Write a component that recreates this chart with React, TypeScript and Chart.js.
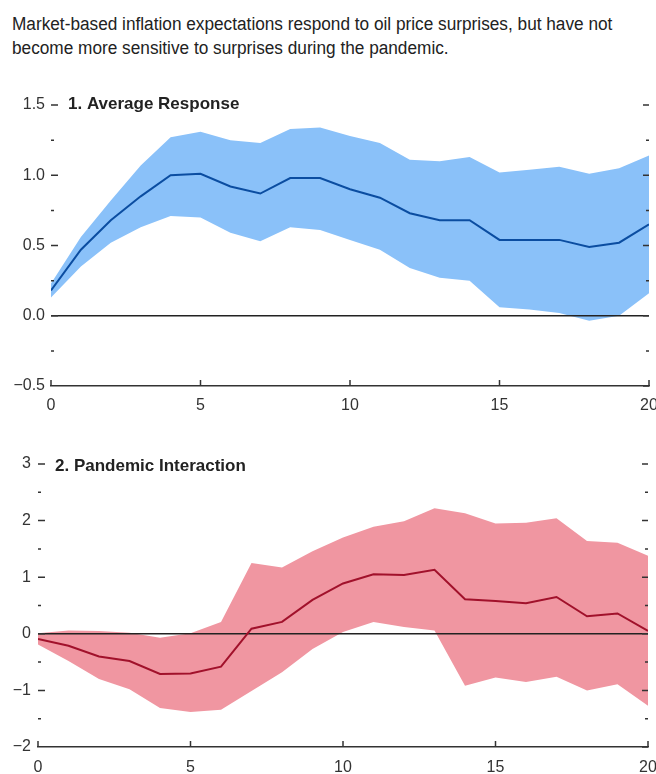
import React, { useEffect, useRef } from "react";
import { Chart, registerables } from "chart.js";

Chart.register(...registerables);

const horizons = [0, 1, 2, 3, 4, 5, 6, 7, 8, 9, 10, 11, 12, 13, 14, 15, 16, 17, 18, 19, 20];

const avgMean = [0.18, 0.47, 0.68, 0.85, 1.0, 1.01, 0.92, 0.87, 0.98, 0.98, 0.9, 0.84, 0.73, 0.68, 0.68, 0.54, 0.54, 0.54, 0.49, 0.52, 0.65];
const avgUpper = [0.23, 0.56, 0.82, 1.07, 1.27, 1.31, 1.25, 1.23, 1.33, 1.34, 1.28, 1.23, 1.11, 1.1, 1.13, 1.02, 1.04, 1.06, 1.01, 1.05, 1.14];
const avgLower = [0.13, 0.35, 0.52, 0.63, 0.71, 0.7, 0.59, 0.53, 0.63, 0.61, 0.54, 0.47, 0.34, 0.27, 0.25, 0.06, 0.045, 0.02, -0.035, 0.0, 0.16];

const panMean = [-0.09, -0.21, -0.4, -0.48, -0.71, -0.7, -0.58, 0.09, 0.21, 0.6, 0.89, 1.05, 1.04, 1.13, 0.61, 0.58, 0.54, 0.65, 0.31, 0.36, 0.05];
const panUpper = [0.01, 0.06, 0.05, 0.02, -0.07, 0.01, 0.21, 1.25, 1.17, 1.46, 1.7, 1.89, 1.99, 2.22, 2.13, 1.95, 1.96, 2.04, 1.64, 1.61, 1.38];
const panLower = [-0.19, -0.48, -0.8, -0.98, -1.31, -1.38, -1.34, -1.01, -0.68, -0.27, 0.03, 0.21, 0.12, 0.06, -0.92, -0.77, -0.85, -0.76, -1.0, -0.89, -1.27];

const xTicks = [0, 5, 10, 15, 20];
const avgMajor = [-0.5, 0, 0.5, 1, 1.5];
const avgMinor = [-0.25, 0.25, 0.75, 1.25];
const panMajor = [-2, -1, 0, 1, 2, 3];
const panMinor = [-1.5, -0.5, 0.5, 1.5, 2.5];

const titleText1 = "Market-based inflation expectations respond to oil price surprises, but have not";
const titleText2 = "become more sensitive to surprises during the pandemic.";

type PanelProps = {
  title: string;
  mean: number[];
  upper: number[];
  lower: number[];
  major: number[];
  minor: number[];
  yMin: number;
  yMax: number;
  step: number;
  decimals: number;
  bandColor: string;
  lineColor: string;
  top: number;
  height: number;
  padTop: number;
  padRight: number;
  yWidth: number;
  xHeight: number;
  xPad: number;
  yPad: number;
  titleDx: number;
  titleDy: number;
};

function Panel(p: PanelProps) {
  const ref = useRef<HTMLCanvasElement | null>(null);
  useEffect(() => {
    if (!ref.current) return;
    const pts = (arr: number[]) => horizons.map((h, i) => ({ x: h, y: arr[i] }));
    const axisColor = "#333333";
    const decor = {
      id: "decor",
      afterDatasetsDraw(chart: any) {
        const { ctx, chartArea } = chart;
        const xs = chart.scales.x;
        const ys = chart.scales.y;
        ctx.save();
        ctx.strokeStyle = axisColor;
        ctx.lineWidth = 1.5;
        const tick = (v: number, len: number, rlen: number) => {
          const y = ys.getPixelForValue(v);
          ctx.beginPath();
          ctx.moveTo(chartArea.left, y);
          ctx.lineTo(chartArea.left + len, y);
          ctx.moveTo(chartArea.right, y);
          ctx.lineTo(chartArea.right - rlen, y);
          ctx.stroke();
        };
        p.major.forEach((v) => { if (v !== p.yMin) tick(v, 7, 6); else tick(v, 0, 6); });
        p.minor.forEach((v) => tick(v, 3, 3));
        xTicks.forEach((v) => {
          const x = xs.getPixelForValue(v);
          ctx.beginPath();
          ctx.moveTo(x, chartArea.bottom);
          ctx.lineTo(x, chartArea.bottom - 6);
          ctx.stroke();
        });
        ctx.fillStyle = "#222222";
        ctx.font = "bold 17px 'Liberation Sans', Arial, sans-serif";
        ctx.textBaseline = "alphabetic";
        ctx.textAlign = "left";
        ctx.fillText(p.title, chartArea.left + p.titleDx, chartArea.top + p.titleDy);
        ctx.restore();
      },
    };
    const chart = new Chart(ref.current, {
      type: "line",
      data: {
        datasets: [
          {
            label: "mean",
            data: pts(p.mean),
            borderColor: p.lineColor,
            borderWidth: 2,
            pointRadius: 0,
            fill: false,
            tension: 0,
          },
          {
            label: "zero",
            data: [{ x: horizons[0], y: 0 }, { x: horizons[horizons.length - 1], y: 0 }],
            borderColor: "#222222",
            borderWidth: 1.5,
            pointRadius: 0,
            fill: false,
          },
          {
            label: "upper",
            data: pts(p.upper),
            borderWidth: 0,
            borderColor: "rgba(0,0,0,0)",
            backgroundColor: p.bandColor,
            pointRadius: 0,
            fill: "+1",
            tension: 0,
          },
          {
            label: "lower",
            data: pts(p.lower),
            borderWidth: 0,
            borderColor: "rgba(0,0,0,0)",
            pointRadius: 0,
            fill: false,
            tension: 0,
          },
        ],
      },
      options: {
        animation: false,
        responsive: false,
        devicePixelRatio: 1,
        layout: { padding: { top: p.padTop, right: p.padRight, left: 0, bottom: 0 } },
        plugins: { legend: { display: false }, tooltip: { enabled: false }, title: { display: false } },
        scales: {
          x: {
            type: "linear",
            min: 0,
            max: 20,
            offset: false,
            grid: { display: false, drawTicks: false },
            border: { display: true, color: axisColor, width: 1.5 },
            ticks: {
              stepSize: 5,
              padding: p.xPad,
              color: "#333333",
              font: { family: "'Liberation Sans', Arial, sans-serif", size: 16 },
              maxRotation: 0,
              autoSkip: false,
            },
            afterFit(scale: any) {
              scale.height = p.xHeight;
              scale.paddingLeft = 0;
              scale.paddingRight = 0;
            },
          },
          y: {
            min: p.yMin,
            max: p.yMax,
            grid: { display: false, drawTicks: false },
            border: { display: false },
            ticks: {
              stepSize: p.step,
              padding: p.yPad,
              color: "#333333",
              font: { family: "'Liberation Sans', Arial, sans-serif", size: 16 },
              callback: (v: any) => {
                const n = Number(v);
                const s = Math.abs(n).toFixed(p.decimals);
                return n < 0 ? "\u2212" + s : s;
              },
            },
            afterFit(scale: any) {
              scale.width = p.yWidth;
              scale.paddingTop = 0;
              scale.paddingBottom = 0;
            },
          },
        },
      },
      plugins: [decor],
    } as any);
    return () => chart.destroy();
  }, []);
  return (
    <canvas
      ref={ref}
      width={656}
      height={p.height}
      style={{ position: "absolute", left: 0, top: p.top, width: 656, height: p.height }}
    />
  );
}

export default function App() {
  return (
    <div style={{ position: "fixed", left: 0, top: 0, width: 656, height: 774, background: "#ffffff", overflow: "hidden" }}>
      <div
        style={{
          position: "absolute",
          left: 12,
          top: 12,
          fontFamily: "'Liberation Sans', Arial, sans-serif",
          fontSize: 18,
          lineHeight: "24px",
          color: "#222222",
          whiteSpace: "nowrap",
          transform: "scaleX(0.957)",
          transformOrigin: "left top",
        }}
      >
        {titleText1}
        <br />
        {titleText2}
      </div>
      <Panel
        title="1. Average Response"
        mean={avgMean}
        upper={avgUpper}
        lower={avgLower}
        major={avgMajor}
        minor={avgMinor}
        yMin={-0.5}
        yMax={1.5}
        step={0.5}
        decimals={1}
        bandColor="#8AC1F9"
        lineColor="#0B4DA1"
        top={80}
        height={340}
        padTop={25}
        padRight={7}
        yWidth={51}
        xHeight={34}
        xPad={10}
        yPad={6}
        titleDx={17}
        titleDy={4}
      />
      <Panel
        title="2. Pandemic Interaction"
        mean={panMean}
        upper={panUpper}
        lower={panLower}
        major={panMajor}
        minor={panMinor}
        yMin={-2}
        yMax={3}
        step={1}
        decimals={0}
        bandColor="#F096A1"
        lineColor="#A1112B"
        top={440}
        height={334}
        padTop={24}
        padRight={8}
        yWidth={38}
        xHeight={27}
        xPad={11}
        yPad={7}
        titleDx={17}
        titleDy={7}
      />
    </div>
  );
}
